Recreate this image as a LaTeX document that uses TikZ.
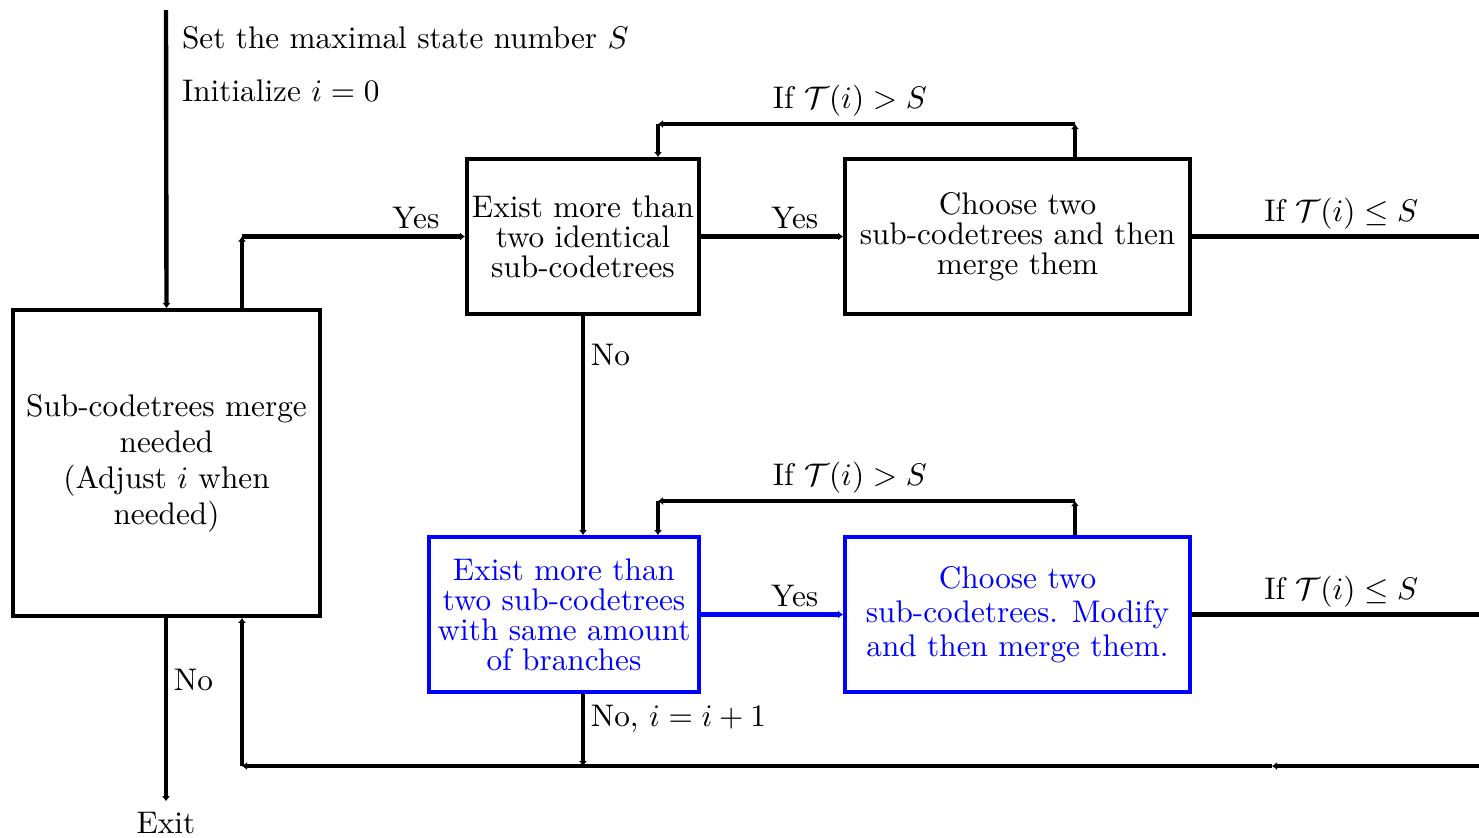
\documentclass[tikz,border=0pt]{standalone}
\usepackage{amsmath,amssymb}
\usepackage{tikz}
\usetikzlibrary{arrows.meta}

\begin{document}
\begin{tikzpicture}[
  x=0.32pt, y=-0.32pt,
  block/.style={draw,line width=1.35pt,align=center,inner sep=1pt,
    font=\fontsize{10pt}{9.6pt}\selectfont},
  newblock/.style={block,draw=blue,text=blue},
  arrow/.style={-{Latex[length=1.6pt,width=2.6pt]},line width=1.4pt},
  line/.style={line width=1.4pt},
  toplabel/.style={above,yshift=-1.6pt},
  sidelabel/.style={right,xshift=-1.5pt}
]
\useasboundingbox (0,0) rectangle (1479,837);
\node[block,minimum width=98.3pt,minimum height=97.8pt,font=\fontsize{10pt}{11.5pt}\selectfont] (merge) at (166.5,463) {Sub-codetrees merge\\needed\\(Adjust $i$ when\\needed)};
\node[block,minimum width=74.2pt,minimum height=49.5pt] (ident) at (583,236.5) {Exist more than\\two identical\\sub-codetrees};
\node[block,minimum width=110.3pt,minimum height=49.5pt] (choose) at (1017.5,236.5) {Choose two\\sub-codetrees and then\\merge them};
\node[newblock,minimum width=86.3pt,minimum height=49.5pt] (branch) at (564,614.5) {Exist more than\\two sub-codetrees\\with same amount\\of branches};
\node[newblock,minimum width=110.3pt,minimum height=49.5pt,font=\fontsize{10pt}{10.8pt}\selectfont] (modify) at (1017.5,614.5) {Choose two\\sub-codetrees. Modify\\and then merge them.};
\node[anchor=west] (setS) at (171,38) {Set the maximal state number $S$};
\node[anchor=west] (init) at (171,91) {Initialize $i=0$};
\node (exit) at (166,823) {Exit};
\coordinate (start) at (166,10);
\coordinate (yesup) at (242,236.5);
\coordinate (loopAr) at (1075,124);
\coordinate (loopAl) at (658,124);
\coordinate (loopBr) at (1075,501);
\coordinate (loopBl) at (658,501);
\coordinate (outA) at (1479,236.5);
\coordinate (outB) at (1479,614.5);
\coordinate (backR) at (1479,766);
\coordinate (backM) at (1272,766);
\coordinate (backL) at (242,766);
\coordinate (backC) at (583,766);
% entry and first test
\draw[arrow] (start) -- (merge.north);
\draw[arrow] (merge.north -| yesup) -- (yesup);
\draw[arrow] (yesup) -- (ident.west) node[pos=0.78,toplabel] {Yes};
\draw[arrow] (ident.east) -- (choose.west) node[pos=0.66,toplabel] {Yes};
\draw[arrow] (choose.north -| loopAr) -- (loopAr);
\draw[arrow] (loopAr) -- (loopAl) node[pos=0.54,toplabel] {If $\mathcal{T}(i)>S$};
\draw[arrow] (loopAl) -- (ident.north -| loopAl);
\draw[line] (choose.east) -- (outA) node[pos=0.52,toplabel] {If $\mathcal{T}(i)\leq S$};
\draw[arrow] (ident.south) -- (branch.north -| ident.south) node[pos=0.18,sidelabel] {No};
% second test
\draw[arrow,blue] (branch.east) -- (modify.west) node[pos=0.66,toplabel,black] {Yes};
\draw[arrow] (modify.north -| loopBr) -- (loopBr);
\draw[arrow] (loopBr) -- (loopBl) node[pos=0.54,toplabel] {If $\mathcal{T}(i)>S$};
\draw[arrow] (loopBl) -- (branch.north -| loopBl);
\draw[line] (modify.east) -- (outB) node[pos=0.52,toplabel] {If $\mathcal{T}(i)\leq S$};
% back to merge box
\draw[arrow] (branch.south -| backC) -- (backC) node[pos=0.35,sidelabel] {No, $i=i+1$};
\draw[arrow] (backR) -- (backM);
\draw[arrow] (backM) -- (backL);
\draw[arrow] (backL) -- (merge.south -| backL);
\draw[arrow] (merge.south -| exit) -- (exit.north) node[pos=0.34,sidelabel] {No};
\end{tikzpicture}
\end{document}
